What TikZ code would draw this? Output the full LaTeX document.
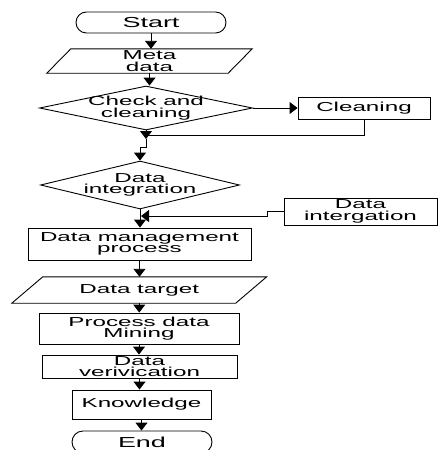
\documentclass[tikz,border=0pt]{standalone}
\usepackage{fontspec}
\setmainfont{Liberation Sans}[FakeStretch=1.86]
\usetikzlibrary{arrows.meta,shapes.geometric,shapes.misc,calc}
\begin{document}
\begin{tikzpicture}[x=1pt,y=-1pt,
  every node/.style={inner sep=0pt, align=center, font=\fontsize{13}{11.5}\selectfont},
  box/.style={draw, line width=0.9pt, rectangle},
  term/.style={draw, line width=0.9pt, rounded rectangle, font=\fontsize{14.5}{14}\selectfont},
  dia/.style={draw, line width=0.9pt, diamond},
  flow/.style={line width=0.9pt, -{Triangle[length=8pt,width=12pt]}},
  ln/.style={line width=0.9pt}]
\useasboundingbox (0,0) rectangle (438,450);
% nodes
\node[term, minimum width=150pt, minimum height=21pt] (start) at (151,22.5) {Start};
\node[minimum width=181pt, minimum height=24pt] (md) at (149.5,61) {Meta\\data};
\node[dia, minimum width=213pt, minimum height=44pt] (chk) at (146,108) {};
\node (chkt) at (146,108) {Check and\\cleaning};
\node[box, minimum width=132pt, minimum height=22pt] (cln) at (364,108) {Cleaning};
\node[dia, minimum width=199pt, minimum height=48pt] (dint) at (140,185) {};
\node (dintt) at (140,185) {Data\\integration};
\node[box, minimum width=153pt, minimum height=27pt] (dig) at (360.5,211.5) {Data\\intergation};
\node[box, minimum width=223pt, minimum height=32pt] (dmp) at (139.5,244) {Data management\\process};
\node[minimum width=223.5pt, minimum height=26pt] (dt) at (139.25,290) {Data target};
\node[box, minimum width=200pt, minimum height=31pt] (pdm) at (139,328.5) {Process data\\Mining};
\node[box, minimum width=195pt, minimum height=23pt] (dv) at (139.5,366.5) {Data\\verivication};
\node[box, minimum width=139pt, minimum height=29pt] (kn) at (141.5,404.5) {Knowledge};
\node[term, minimum width=140pt, minimum height=22pt] (end) at (142,442) {End};
% parallelograms
\draw[ln] ($(md.north west)+(12,0)$) -- ($(md.north east)+(12,0)$) -- ($(md.south east)+(-12,0)$) -- ($(md.south west)+(-12,0)$) -- cycle;
\draw[ln] ($(dt.north west)+(15.5,0)$) -- ($(dt.north east)+(15.5,0)$) -- ($(dt.south east)+(-15.5,0)$) -- ($(dt.south west)+(-15.5,0)$) -- cycle;
% coordinates
\coordinate (j1) at (146,139);
\coordinate (m1) at (146,135);
\coordinate (j2) at (146,147);
\coordinate (j3) at (140,147);
\coordinate (k1) at (267,211.5);
\coordinate (k2) at (267,216);
\coordinate (k3) at (141,216);
% connectors
\draw[flow] (start.south) -- (start.south |- md.north);
\draw[flow] (md.south) -- (md.south |- chk.north);
\draw[flow] (chk.east) -- (cln.west);
\draw[ln] (cln.south) |- (m1);
\draw[flow] (chk.south) -- (j1);
\draw[flow] (j1) -- (j2) -- (j3) -- (dint.north);
\draw[flow] (dint.south) -- (dint.south |- dmp.north);
\draw[flow] (dig.west) -- (k1) -- (k2) -- (k3);
\draw[flow] (dmp.south) -- (dmp.south |- dt.north);
\draw[flow] (dt.south) -- (dt.south |- pdm.north);
\draw[flow] (pdm.south) -- (pdm.south |- dv.north);
\draw[flow] (dv.south) -- (dv.south |- kn.north);
\draw[flow] (kn.south) -- (kn.south |- end.north);
\end{tikzpicture}
\end{document}
